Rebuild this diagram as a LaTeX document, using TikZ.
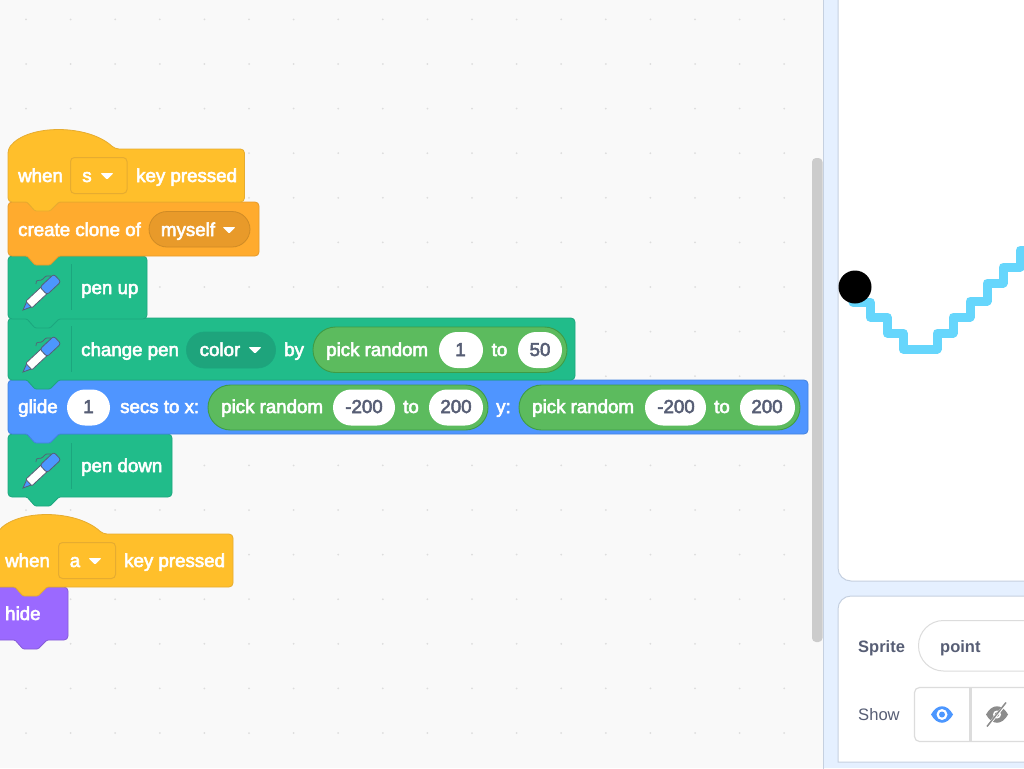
\documentclass[tikz,border=0pt]{standalone}
\usepackage{fontspec}
\setmainfont{Liberation Sans}
\newfontfamily\blockfont[FakeBold=3]{Liberation Sans}
\newfontfamily\boldui{Liberation Sans Bold}
\definecolor{canvas}{HTML}{F9F9F9}
\definecolor{griddot}{HTML}{DDDDDD}
\definecolor{hatfill}{HTML}{FFBF2B}
\definecolor{hatline}{HTML}{E6AC30}
\definecolor{ctlfill}{HTML}{FFAB2E}
\definecolor{ctlline}{HTML}{E69A2A}
\definecolor{ctldark}{HTML}{E89A2A}
\definecolor{penfill}{HTML}{21BC8A}
\definecolor{penline}{HTML}{1CA67E}
\definecolor{pendark}{HTML}{1EA47C}
\definecolor{motfill}{HTML}{4F95FF}
\definecolor{motline}{HTML}{4382DE}
\definecolor{opfill}{HTML}{5CBB5E}
\definecolor{opline}{HTML}{3F9C45}
\definecolor{lookfill}{HTML}{9B69FF}
\definecolor{lookline}{HTML}{855CD6}
\definecolor{inktext}{HTML}{575E75}
\definecolor{panel}{HTML}{E5F0FF}
\definecolor{panelline}{HTML}{C5D0E0}
\definecolor{inputline}{HTML}{DCDCDC}
\definecolor{scrollbar}{HTML}{CCCCCC}
\definecolor{penink}{HTML}{66D6FC}
\definecolor{eyeblue}{HTML}{4C97FF}
\definecolor{eyegray}{HTML}{8C8C8C}
\tikzset{
  x=1pt,y=-1pt,
  hatblock/.style={fill=hatfill,draw=hatline,line width=.8pt,rounded corners=4pt},
  ctlblock/.style={fill=ctlfill,draw=ctlline,line width=.8pt,rounded corners=4pt},
  penblock/.style={fill=penfill,draw=penline,line width=.8pt,rounded corners=4pt},
  motblock/.style={fill=motfill,draw=motline,line width=.8pt,rounded corners=4pt},
  lookblock/.style={fill=lookfill,draw=lookline,line width=.8pt,rounded corners=4pt},
  whitetext/.style={anchor=base west,inner sep=0pt,text=white,font=\blockfont\fontsize{18.7}{20}\selectfont},
  valtext/.style={anchor=base,inner sep=0pt,text=inktext,font=\blockfont\fontsize{18.7}{20}\selectfont},
  droptext/.style={anchor=base,inner sep=0pt,text=white,font=\blockfont\fontsize{18.7}{20}\selectfont},
  valpill/.style={fill=white,draw=none,rounded corners=18pt},
  oppill/.style={fill=opfill,draw=opline,line width=.9pt,rounded corners=22.5pt},
  sep/.style={draw=penline,line width=1pt},
  uitext/.style={anchor=base west,inner sep=0pt,text=inktext,font=\fontsize{16.6}{18}\selectfont},
  uibold/.style={anchor=base west,inner sep=0pt,text=inktext,font=\boldui\fontsize{16.5}{18}\selectfont},
}
% stack block: x, y, width, height, style
\newcommand{\blk}[5]{\draw[#5,shift={(#1,#2)}] (10,0) [rounded corners=1.2pt] -- (19,0) -- (27,8) -- (42,8) -- (51,0) [rounded corners=4pt] -- (#3,0) -- (#3,#4) [rounded corners=1.2pt] -- (51,#4) -- (42,#4+9) -- (27,#4+9) -- (19,#4) [rounded corners=4pt] -- (0,#4) -- (0,0) -- cycle;}
% hat block: x, ytop of arc, width, height
\newcommand{\hatblk}[5]{\draw[#5,shift={(#1,#2)}] (0,19) .. controls (20,-6) and (80,-6) .. (107,19) -- (#3,19) -- (#3,#4) [rounded corners=1.2pt] -- (51,#4) -- (42,#4+9) -- (27,#4+9) -- (19,#4) [rounded corners=4pt] -- (0,#4) -- cycle;}
\newcommand{\tri}[2]{\fill[white,rounded corners=1pt,shift={(#1,#2)}] (-6.5,-3) -- (6.5,-3) -- (0,3.5) -- cycle;}
% pen icon: tip position
\newcommand{\penicon}[2]{%
  \draw[inktext,line width=.7pt,shift={(#1,#2)}] (13,-26) .. controls (12,-32) and (18,-28) .. (20,-31) .. controls (22,-34) and (25,-35) .. (28,-34);
  \begin{scope}[shift={(#1,#2)},rotate=43]
    \draw[inktext,line width=.8pt,fill=eyeblue] (0,0) -- (9,-3.8) -- (9,3.8) -- cycle;
    \draw[inktext,line width=.8pt,fill=white,rounded corners=1pt] (8,-4.5) rectangle (29,4.5);
    \draw[inktext,line width=.8pt,fill=eyeblue,rounded corners=2.5pt] (28,-5.2) rectangle (47,5.2);
  \end{scope}}
\begin{document}
\begin{tikzpicture}
\useasboundingbox (0,0) rectangle (1024,768);
\clip (0,0) rectangle (1024,768);
\fill[canvas] (0,0) rectangle (1024,768);
% workspace grid dots
\foreach \i in {0,...,17}{\foreach \j in {0,...,16}{
  \fill[griddot] (26+44.6*\i,19.4+44.6*\j) circle[radius=1];}}
% right panel
\fill[panel] (823,0) rectangle (1024,768);
\draw[panelline,line width=1pt] (823,-2) -- (823,770);
\fill[scrollbar,rounded corners=4pt] (812,158) rectangle (822.5,642);
% stage
\draw[panelline,fill=white,line width=1pt,rounded corners=13pt] (1040,-20) -- (838,-20) -- (838,581) -- (1040,581);
\draw[penink,line width=9pt,line join=round,line cap=round] (853,302) -- (870,302) -- (870,317) -- (887,317) -- (887,333) -- (903,333) -- (903,349) -- (937,349) -- (937,333) -- (953,333) -- (953,317) -- (970,317) -- (970,301) -- (987,301) -- (987,283) -- (1003,283) -- (1003,267) -- (1020,267) -- (1020,250) -- (1030,250);
\fill[black] (855,287) circle[radius=16.5];
% sprite panel
\draw[panelline,fill=white,line width=1pt,rounded corners=13pt] (1040,596) -- (838,596) -- (838,680) [sharp corners] -- (838,762) -- (1040,762);
\node[uibold] (spriteLabel) at (858,652.5) {Sprite};
\draw[inputline,line width=1pt,fill=white,rounded corners=25pt] (1060,620.5) -- (918.5,620.5) -- (918.5,671) -- (1060,671);
\node[uibold] (spriteName) at (940,652.5) {point};
\node[uitext] (showLabel) at (858,720) {Show};
\draw[inputline,line width=1.2pt,fill=white,rounded corners=5pt] (1060,687.5) -- (914.5,687.5) -- (914.5,741.5) -- (1060,741.5);
\draw[inputline,line width=2.2pt] (970.5,687.5) -- (970.5,741.5);
\begin{scope}[shift={(942,714.5)}]
  \fill[eyeblue] (-11,0) .. controls (-5,-11) and (5,-11) .. (11,0) .. controls (5,11) and (-5,11) .. (-11,0);
  \fill[white] (0,0) circle[radius=5.5];
  \fill[eyeblue] (0,0) circle[radius=3];
\end{scope}
\begin{scope}[shift={(997,714.5)}]
  \fill[eyegray] (-11,0) .. controls (-5,-11) and (5,-11) .. (11,0) .. controls (5,11) and (-5,11) .. (-11,0);
  \fill[white] (0,0) circle[radius=4];
  \fill[eyegray] (0,0) circle[radius=2.2];
  \draw[white,line width=2.6pt] (-9,11) -- (9,-11);
  \draw[eyegray,line width=1.5pt] (-10,12) -- (9,-12);
\end{scope}
% first stack, drawn from the bottom up
\blk{8}{434}{164}{63}{penblock}
\penicon{23}{488}
\draw[sep] (71,443) -- (71,489);
\node[whitetext] (penDown) at (81,472) {pen down};

\blk{8}{380}{800}{54}{motblock}
\node[whitetext] (glide) at (18,413) {glide};
\fill[valpill] (67,389.5) rectangle (110,425.5);
\node[valtext] (glideSecs) at (88.5,413) {1};
\node[whitetext] (secsTo) at (120,413) {secs to x:};
\draw[oppill] (208,385) rectangle (488,430);
\node[whitetext] (randA) at (221,413) {pick random};
\fill[valpill] (333,389.5) rectangle (395,425.5);
\node[valtext] (randAmin) at (364,413) {-200};
\node[whitetext] (toA) at (403,413) {to};
\fill[valpill] (429,389.5) rectangle (483,425.5);
\node[valtext] (randAmax) at (456,413) {200};
\node[whitetext] (yLabel) at (496,413) {y:};
\draw[oppill] (519,385) rectangle (800,430);
\node[whitetext] (randB) at (532,413) {pick random};
\fill[valpill] (645,389.5) rectangle (706,425.5);
\node[valtext] (randBmin) at (676,413) {-200};
\node[whitetext] (toB) at (714,413) {to};
\fill[valpill] (740,389.5) rectangle (795,425.5);
\node[valtext] (randBmax) at (767,413) {200};

\blk{8}{318}{567}{62}{penblock}
\penicon{23}{372}
\draw[sep] (71,326) -- (71,372);
\node[whitetext] (changePen) at (81,356) {change pen};
\draw[fill=pendark,draw=penline,line width=.8pt,rounded corners=18pt] (186.5,332) rectangle (275.5,368);
\node[droptext] (colorDrop) at (220,356) {color};
\tri{255}{350}
\node[whitetext] (byLabel) at (284,356) {by};
\draw[oppill] (313,327) rectangle (567,372.5);
\node[whitetext] (randC) at (326,356) {pick random};
\fill[valpill] (439,332) rectangle (483,368);
\node[valtext] (randCmin) at (460.5,356) {1};
\node[whitetext] (toC) at (491.5,356) {to};
\fill[valpill] (518,332) rectangle (562,368);
\node[valtext] (randCmax) at (540,356) {50};

\blk{8}{256}{139}{63}{penblock}
\penicon{23}{310}
\draw[sep] (71,264) -- (71,310);
\node[whitetext] (penUp) at (81,294) {pen up};

\blk{8}{202}{251}{54}{ctlblock}
\node[whitetext] (cloneLabel) at (18,236) {create clone of};
\draw[fill=ctldark,draw=ctlline!90!black,line width=.8pt,rounded corners=18pt] (149,211.5) rectangle (250,247);
\node[droptext] (cloneDrop) at (188,236) {myself};
\tri{229}{230}

\hatblk{8}{130}{236.5}{72}{hatblock}
\node[whitetext] (whenS) at (18,182) {when};
\draw[hatline,line width=1pt,rounded corners=4pt] (70.5,157.5) rectangle (127,193.5);
\node[droptext] (keyS) at (87,182) {s};
\tri{107}{176}
\node[whitetext] (pressedS) at (136,182) {key pressed};

% second stack
\blk{-4}{587}{72}{53}{lookblock}
\node[whitetext] (hideLabel) at (5,620) {hide};

\hatblk{-4}{515}{237}{72}{hatblock}
\node[whitetext] (whenA) at (5,567) {when};
\draw[hatline,line width=1pt,rounded corners=4pt] (58.5,542.5) rectangle (115.5,578.5);
\node[droptext] (keyA) at (75,567) {a};
\tri{95}{561}
\node[whitetext] (pressedA) at (124,567) {key pressed};
\end{tikzpicture}
\end{document}
